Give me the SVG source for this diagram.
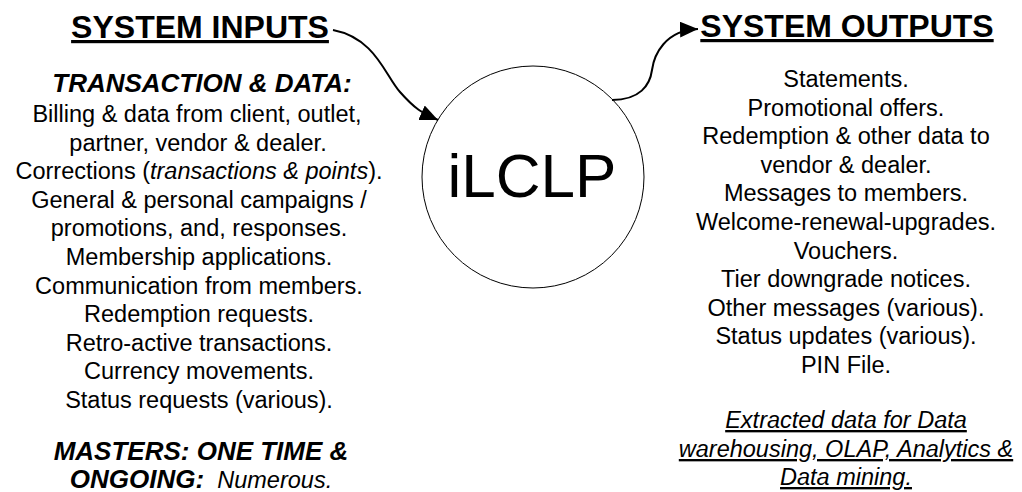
<svg xmlns="http://www.w3.org/2000/svg" width="1022" height="492" viewBox="0 0 1022 492">
<style>
text{font-family:"Liberation Sans",Arial,sans-serif;fill:#000;text-anchor:middle}
.title{font-size:32px;font-weight:bold;text-decoration:underline}
.head{font-size:26px;font-weight:bold;font-style:italic}
.body{font-size:23.5px}
.it{font-style:italic}
.ext{font-size:23.5px;font-style:italic;text-decoration:underline}
.conn{fill:none;stroke:#000;stroke-width:2}
</style>
<defs>
<marker id="ah" markerUnits="userSpaceOnUse" markerWidth="20" markerHeight="16" refX="18" refY="8" orient="auto">
<path d="M0,0 L18,8 L0,16 Z" fill="#000"/>
</marker>
</defs>
<rect width="1022" height="492" fill="#fff"/>
<g id="inputs">
<text class="title" x="200" y="38">SYSTEM INPUTS</text>
<text class="head" x="202" y="92">TRANSACTION &amp; DATA:</text>
<text class="body" x="197" y="122">Billing &amp; data from client, outlet,</text>
<text class="body" x="198" y="150.6">partner, vendor &amp; dealer.</text>
<text class="body" x="199" y="179.2">Corrections (<tspan class="it">transactions &amp; points</tspan>).</text>
<text class="body" x="199" y="207.8">General &amp; personal campaigns /</text>
<text class="body" x="199" y="236.4">promotions, and, responses.</text>
<text class="body" x="199" y="265">Membership applications.</text>
<text class="body" x="199" y="293.6">Communication from members.</text>
<text class="body" x="199" y="322.2">Redemption requests.</text>
<text class="body" x="199" y="350.8">Retro-active transactions.</text>
<text class="body" x="199" y="379.4">Currency movements.</text>
<text class="body" x="199" y="408">Status requests (various).</text>
<text class="head" x="201" y="460">MASTERS: ONE TIME &amp;</text>
<text class="head" x="201" y="488" xml:space="preserve">ONGOING:<tspan style="font-weight:normal;font-size:23.5px">  Numerous.</tspan></text>
</g>
<g id="process">
<circle cx="533" cy="177" r="111" fill="#fff" stroke="#000" stroke-width="1"/>
<text x="532" y="197" style="font-size:62px">iLCLP</text>
</g>
<g id="outputs">
<text class="title" x="847" y="37">SYSTEM OUTPUTS</text>
<text class="body" x="846" y="87">Statements.</text>
<text class="body" x="846" y="115.6">Promotional offers.</text>
<text class="body" x="846" y="144.2">Redemption &amp; other data to</text>
<text class="body" x="846" y="172.8">vendor &amp; dealer.</text>
<text class="body" x="846" y="201.4">Messages to members.</text>
<text class="body" x="846" y="230">Welcome-renewal-upgrades.</text>
<text class="body" x="846" y="258.6">Vouchers.</text>
<text class="body" x="846" y="287.2">Tier downgrade notices.</text>
<text class="body" x="846" y="315.8">Other messages (various).</text>
<text class="body" x="846" y="344.4">Status updates (various).</text>
<text class="body" x="846" y="373">PIN File.</text>
<text class="ext" x="846" y="428">Extracted data for Data</text>
<text class="ext" x="846" y="457">warehousing, OLAP, Analytics &amp;</text>
<text class="ext" x="846" y="485">Data mining.</text>
</g>
<g id="connectors">
<path class="conn" d="M333,30 C375,38 385,75 400,92 S422,113 438,120" marker-end="url(#ah)"/>
<path class="conn" d="M612,100 C640,100 650,85 652,70 S665,30 698,29" marker-end="url(#ah)"/>
</g>
</svg>
